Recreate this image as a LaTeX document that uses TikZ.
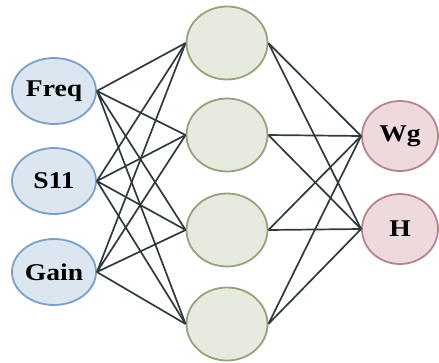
\documentclass[tikz,border=0pt]{standalone}
\usepackage{fontspec}
\setmainfont{Liberation Serif}
\usepackage{tikz}
\usetikzlibrary{shapes.geometric}
\definecolor{inblue}{HTML}{7B9FC9}
\definecolor{infill}{HTML}{DCE6F1}
\definecolor{hidgreen}{HTML}{93A37A}
\definecolor{hidfill}{HTML}{E7EBDF}
\definecolor{outred}{HTML}{B5858A}
\definecolor{outfill}{HTML}{EEDADC}
\definecolor{wiregrey}{HTML}{2E3A3B}
\newcommand{\lbl}[1]{\scalebox{1.15}[1]{\textbf{#1}}}

\begin{document}
\begin{tikzpicture}[x=1pt,y=-1pt,
every node/.style={font=\fontsize{24}{26}\selectfont},
unit/.style={ellipse,line width=1.8pt,inner sep=0pt,align=center},
inunit/.style={unit,draw=inblue,fill=infill,minimum width=84pt,minimum height=66pt},
hidunit/.style={unit,draw=hidgreen,fill=hidfill,minimum width=81pt,minimum height=73pt},
outunit/.style={unit,draw=outred,fill=outfill,minimum width=76pt,minimum height=70pt},
wire/.style={line width=1.7pt,draw=wiregrey}
]
\useasboundingbox (0,0) rectangle (439,362);

% inputs
\node[inunit] (freq) at (54,91)  {\lbl{Freq}};
\node[inunit] (s11)  at (54,181) {\lbl{S11}};
\node[inunit] (gain) at (54,272) {\lbl{Gain}};

% hidden layer
\node[hidunit] (h1) at (227,43)  {};
\node[hidunit] (h2) at (227,135) {};
\node[hidunit] (h3) at (227,230) {};
\node[hidunit] (h4) at (227,324) {};

% outputs
\node[outunit] (wg) at (400,136) {\lbl{Wg}};
\node[outunit] (hh) at (400,229) {\lbl{H}};

% connections
\draw[wire] (freq.east) -- (h1.west) (freq.east) -- (h2.west)
            (freq.east) -- (h3.west) (freq.east) -- (h4.west);
\draw[wire] (s11.east) -- (h1.west) (s11.east) -- (h2.west)
            (s11.east) -- (h3.west) (s11.east) -- (h4.west);
\draw[wire] (gain.east) -- (h1.west) (gain.east) -- (h2.west)
            (gain.east) -- (h3.west) (gain.east) -- (h4.west);
\draw[wire] (h1.east) -- (wg.west) (h1.east) -- (hh.west);
\draw[wire] (h2.east) -- (wg.west) (h2.east) -- (hh.west);
\draw[wire] (h3.east) -- (wg.west) (h3.east) -- (hh.west);
\draw[wire] (h4.east) -- (wg.west) (h4.east) -- (hh.west);
\end{tikzpicture}
\end{document}
